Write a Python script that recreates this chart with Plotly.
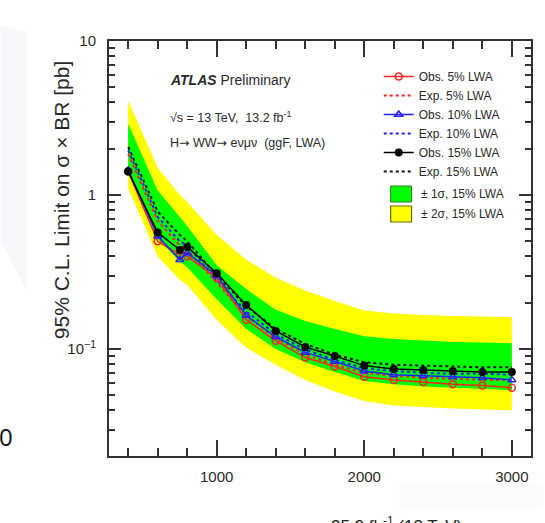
import plotly.graph_objects as go

mass = [400, 600, 750, 800, 1000, 1200, 1400, 1600, 1800, 2000, 2200, 2400, 2600, 2800, 3000]

obs_5 = [1.42, 0.50, 0.41, 0.40, 0.29, 0.155, 0.113, 0.088, 0.077, 0.066, 0.063, 0.061, 0.059, 0.058, 0.056]
exp_5 = [1.85, 0.68, 0.47, 0.44, 0.27, 0.165, 0.117, 0.092, 0.079, 0.070, 0.067, 0.065, 0.064, 0.063, 0.063]
obs_10 = [1.45, 0.54, 0.38, 0.42, 0.30, 0.165, 0.120, 0.095, 0.083, 0.072, 0.068, 0.067, 0.066, 0.065, 0.063]
exp_10 = [1.95, 0.72, 0.50, 0.47, 0.28, 0.175, 0.125, 0.099, 0.085, 0.075, 0.072, 0.070, 0.069, 0.069, 0.068]
obs_15 = [1.42, 0.57, 0.44, 0.46, 0.31, 0.193, 0.131, 0.103, 0.090, 0.078, 0.074, 0.073, 0.072, 0.071, 0.071]
exp_15 = [2.05, 0.78, 0.55, 0.50, 0.30, 0.190, 0.135, 0.108, 0.092, 0.082, 0.079, 0.078, 0.077, 0.076, 0.076]

sig2_up = [4.1, 1.5, 1.0, 0.9, 0.55, 0.38, 0.29, 0.24, 0.205, 0.178, 0.170, 0.166, 0.164, 0.162, 0.161]
sig1_up = [2.9, 1.07, 0.72, 0.63, 0.35, 0.245, 0.18, 0.152, 0.135, 0.121, 0.116, 0.113, 0.111, 0.110, 0.109]
sig1_dn = [1.40, 0.52, 0.37, 0.34, 0.21, 0.135, 0.100, 0.082, 0.071, 0.062, 0.059, 0.057, 0.056, 0.055, 0.054]
sig2_dn = [1.10, 0.40, 0.28, 0.26, 0.155, 0.102, 0.079, 0.063, 0.053, 0.046, 0.043, 0.042, 0.041, 0.0405, 0.040]

x_major = [1000, 2000, 3000]
x_minor = list(range(400, 3001, 200))
y_major = [0.1, 1, 10]
y_major_text = ["10<sup>\u22121</sup>", "1", "10"]
y_minor = [m * 10 ** e for e in (-2, -1, 0) for m in range(2, 10)]

band_labels = ["\u00b1 1\u03c3, 15% LWA", "\u00b1 2\u03c3, 15% LWA"]

FONT = "Liberation Sans, Arial, sans-serif"
TXT = "#2a2a2a"
ARROW = '<span style="font-family:DejaVu Sans">\u2192</span>'

fig = go.Figure()

fig.add_trace(go.Scatter(
    x=mass + mass[::-1], y=sig2_up + sig2_dn[::-1], fill="toself",
    fillcolor="#ffff00", line=dict(width=0, color="#ffff00"), mode="lines",
    name=band_labels[1], showlegend=False, hoverinfo="skip"))
fig.add_trace(go.Scatter(
    x=mass + mass[::-1], y=sig1_up + sig1_dn[::-1], fill="toself",
    fillcolor="#00ff00", line=dict(width=0, color="#00ff00"), mode="lines",
    name=band_labels[0], showlegend=False, hoverinfo="skip"))

fig.add_trace(go.Scatter(x=mass, y=exp_15, mode="lines", name="Exp. 15% LWA",
                         line=dict(color="#111111", width=2, dash="dot"), legendrank=6))
fig.add_trace(go.Scatter(x=mass, y=exp_10, mode="lines", name="Exp. 10% LWA",
                         line=dict(color="#2020ff", width=2, dash="dot"), legendrank=4))
fig.add_trace(go.Scatter(x=mass, y=exp_5, mode="lines", name="Exp. 5% LWA",
                         line=dict(color="#ff2020", width=2, dash="dot"), legendrank=2))

fig.add_trace(go.Scatter(x=mass, y=obs_5, mode="lines+markers", name="Obs. 5% LWA",
                         line=dict(color="#ff2020", width=1.5),
                         marker=dict(symbol="circle-open", size=7, color="#ff2020", line=dict(width=1.5)),
                         legendrank=1))
fig.add_trace(go.Scatter(x=mass, y=obs_10, mode="lines+markers", name="Obs. 10% LWA",
                         line=dict(color="#2020ff", width=1.5),
                         marker=dict(symbol="triangle-up-open", size=7, color="#2020ff", line=dict(width=1.5)),
                         legendrank=3))
fig.add_trace(go.Scatter(x=mass, y=obs_15, mode="lines+markers", name="Obs. 15% LWA",
                         line=dict(color="#000000", width=1.5),
                         marker=dict(symbol="circle", size=8, color="#000000"),
                         legendrank=5))

W, H = 545, 523
L, R, T, B = 109, 12, 41, 67
pw, ph = W - L - R, H - T - B


def px(xp):
    return (xp - L) / pw


def py(yp):
    return (H - B - yp) / ph


axis_common = dict(showline=True, linecolor="#333333", linewidth=2, mirror="ticks",
                   ticks="inside", tickcolor="#333333", tickwidth=1.5, showgrid=False,
                   zeroline=False, tickfont=dict(family=FONT, size=15, color=TXT))

fig.update_xaxes(range=[270, 3130], tickmode="array", tickvals=x_major,
                 ticktext=[str(v) for v in x_major], ticklen=16, ticklabelstandoff=6,
                 minor=dict(tickmode="array", tickvals=x_minor, ticks="inside", ticklen=8,
                            tickcolor="#333333", tickwidth=1.5),
                 **axis_common)
fig.update_yaxes(type="log", range=[-1.695, 1.0], tickmode="array", tickvals=y_major,
                 ticktext=y_major_text, ticklen=12, ticklabelstandoff=8,
                 minor=dict(tickmode="array", tickvals=y_minor, ticks="inside", ticklen=6,
                            tickcolor="#333333", tickwidth=1.5),
                 **axis_common)

annotations = [
    dict(x=px(168), y=py(80), text="<b><i>ATLAS</i></b> Preliminary", xanchor="left",
         yanchor="middle", font=dict(size=14, family=FONT, color=TXT)),
    dict(x=px(168), y=py(117), text="\u221as = 13 TeV,  13.2 fb<sup>-1</sup>", xanchor="left",
         yanchor="middle", font=dict(size=12.5, family=FONT, color=TXT)),
    dict(x=px(168), y=py(142), text=f"H{ARROW} WW{ARROW} e\u03bd\u03bc\u03bd  (ggF, LWA)", xanchor="left",
         yanchor="middle", font=dict(size=12.5, family=FONT, color=TXT)),
    dict(x=px(62), y=py(200), text="95% C.L. Limit on \u03c3 \u00d7 BR [pb]", textangle=-90,
         xanchor="center", yanchor="middle", font=dict(size=21, family=FONT, color=TXT)),
    dict(x=px(15), y=py(436), text="0", xanchor="right", yanchor="middle",
         font=dict(size=24, family="Open Sans, sans-serif", color="#111111")),
    dict(x=px(398), y=py(512), text="35.9 fb<sup>-1</sup> (13 TeV)", xanchor="center",
         yanchor="top", font=dict(size=17, family=FONT, color="#222222")),
    dict(x=px(420), y=py(194), text=band_labels[0], xanchor="left", yanchor="middle",
         font=dict(size=12, family=FONT, color=TXT)),
    dict(x=px(420), y=py(214), text=band_labels[1], xanchor="left", yanchor="middle",
         font=dict(size=12, family=FONT, color=TXT)),
]
for a in annotations:
    a.update(xref="paper", yref="paper", showarrow=False)

shapes = [
    dict(type="path", xref="paper", yref="paper",
         path=f"M {px(0)},{py(25)} L {px(26)},{py(32)} L {px(26)},{py(290)} L {px(0)},{py(240)} Z",
         fillcolor="rgba(215,220,232,0.22)", line=dict(width=0), layer="below"),
    dict(type="rect", xref="paper", yref="paper", x0=px(400), x1=px(545), y0=py(510), y1=py(482),
         fillcolor="rgba(230,232,238,0.15)", line=dict(width=0), layer="below"),
    # legend boxes for the bands
    dict(type="rect", xref="paper", yref="paper", x0=px(392), x1=px(413), y0=py(202), y1=py(186),
         fillcolor="#00ff00", line=dict(width=1, color="#3a7a20")),
    dict(type="rect", xref="paper", yref="paper", x0=px(392), x1=px(413), y0=py(222), y1=py(206),
         fillcolor="#ffff00", line=dict(width=1.2, color="#6b6b10")),
]

fig.update_layout(
    width=W, height=H, margin=dict(l=L, r=R, t=T, b=B),
    paper_bgcolor="white", plot_bgcolor="white",
    font=dict(family=FONT, color=TXT),
    annotations=annotations, shapes=shapes,
    showlegend=True,
    legend=dict(x=px(380), y=py(62), xanchor="left", yanchor="top",
                bgcolor="rgba(0,0,0,0)", borderwidth=0, itemwidth=30,
                font=dict(size=12, family=FONT, color=TXT), tracegroupgap=0,
                traceorder="normal"),
)

fig.write_html("out.html")
